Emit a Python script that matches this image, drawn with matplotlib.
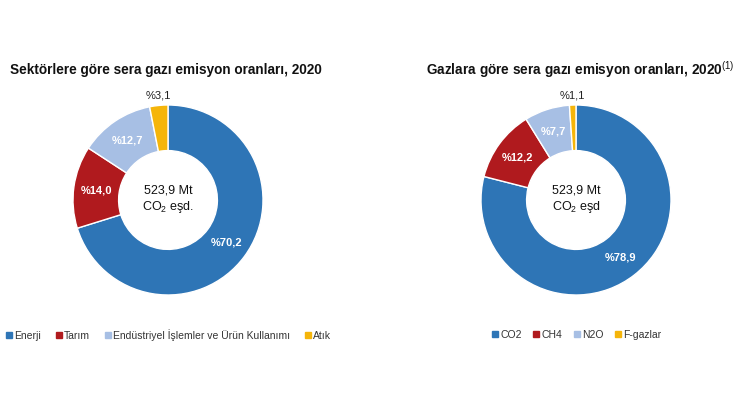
import matplotlib
matplotlib.use("Agg")
import matplotlib.pyplot as plt
from matplotlib.lines import Line2D
import numpy as np

plt.rcParams['font.family'] = ['Liberation Sans', 'DejaVu Sans']
plt.rcParams['mathtext.fontset'] = 'custom'
plt.rcParams['mathtext.rm'] = 'Liberation Sans'
plt.rcParams['mathtext.bf'] = 'Liberation Sans:bold'

# Data
sector_labels = ["Enerji", "Tarım", "Endüstriyel İşlemler ve Ürün Kullanımı", "Atık"]
sector_values = [70.2, 14.0, 12.7, 3.1]
sector_text = ["%70,2", "%14,0", "%12,7", "%3,1"]

gas_labels = ["CO2", "CH4", "N2O", "F-gazlar"]
gas_values = [78.9, 12.2, 7.7, 1.1]
gas_text = ["%78,9", "%12,2", "%7,7", "%1,1"]

center_text_left = "523,9 Mt\nCO$_2$ eşd."
center_text_right = "523,9 Mt\nCO$_2$ eşd"
title_left = "Sektörlere göre sera gazı emisyon oranları, 2020"
title_right = "Gazlara göre sera gazı emisyon oranları, 2020"

colors = ["#2E75B6", "#B01A1E", "#A7BFE4", "#F5B50A"]
label_colors = ["white", "white", "white", "#222222"]

W, H = 740, 400
fig = plt.figure(figsize=(W / 100, H / 100), dpi=100)
fig.patch.set_facecolor("white")

R = 95


def donut(cx, cy, values, texts, center_text):
    ax = fig.add_axes([(cx - R) / W, (H - cy - R) / H, 2 * R / W, 2 * R / H])
    wedges, _ = ax.pie(values, colors=colors, startangle=90, counterclock=False,
                       radius=1.0,
                       wedgeprops=dict(width=0.48, edgecolor="white", linewidth=1.0))
    for i, (w, t) in enumerate(zip(wedges, texts)):
        ang = np.deg2rad((w.theta1 + w.theta2) / 2)
        r = 1.1 if i == 3 else 0.76
        ax.text(r * np.cos(ang), r * np.sin(ang), t, ha="center", va="center",
                color=label_colors[i], fontsize=8,
                fontweight="bold" if i < 3 else "normal")
    ax.text(0, 0, center_text, ha="center", va="center", fontsize=9,
            color="#111111", linespacing=1.2)
    ax.set_xlim(-1, 1)
    ax.set_ylim(-1, 1)
    ax.set_aspect("equal")
    ax.axis("off")
    return ax


donut(168, 200, sector_values, sector_text, center_text_left)
donut(576, 200, gas_values, gas_text, center_text_right)

fig.text(166 / W, 1 - 70 / H, title_left, ha="center", va="center",
         fontsize=9.8, fontweight="bold", color="#111111")
fig.text(580 / W, 1 - 70 / H, title_right + r"$^{(1)}$", ha="center", va="center",
         fontsize=9.8, fontweight="bold", color="#111111")


def make_handles(labels):
    return [Line2D([0], [0], marker="s", linestyle="none", markersize=4,
                   markerfacecolor=c, markeredgecolor=c, label=l)
            for c, l in zip(colors, labels)]


fig.legend(handles=make_handles(sector_labels), loc="center",
           bbox_to_anchor=(168 / W, 1 - 335 / H), ncol=4, frameon=False,
           fontsize=7.5, handletextpad=0.1, columnspacing=1.3,
           handlelength=0.8, labelcolor="#333333")
fig.legend(handles=make_handles(gas_labels), loc="center",
           bbox_to_anchor=(576 / W, 1 - 335 / H), ncol=4, frameon=False,
           fontsize=7.5, handletextpad=0.1, columnspacing=1.0,
           handlelength=0.8, labelcolor="#333333")

fig.savefig("out.png", dpi=100, facecolor="white")
